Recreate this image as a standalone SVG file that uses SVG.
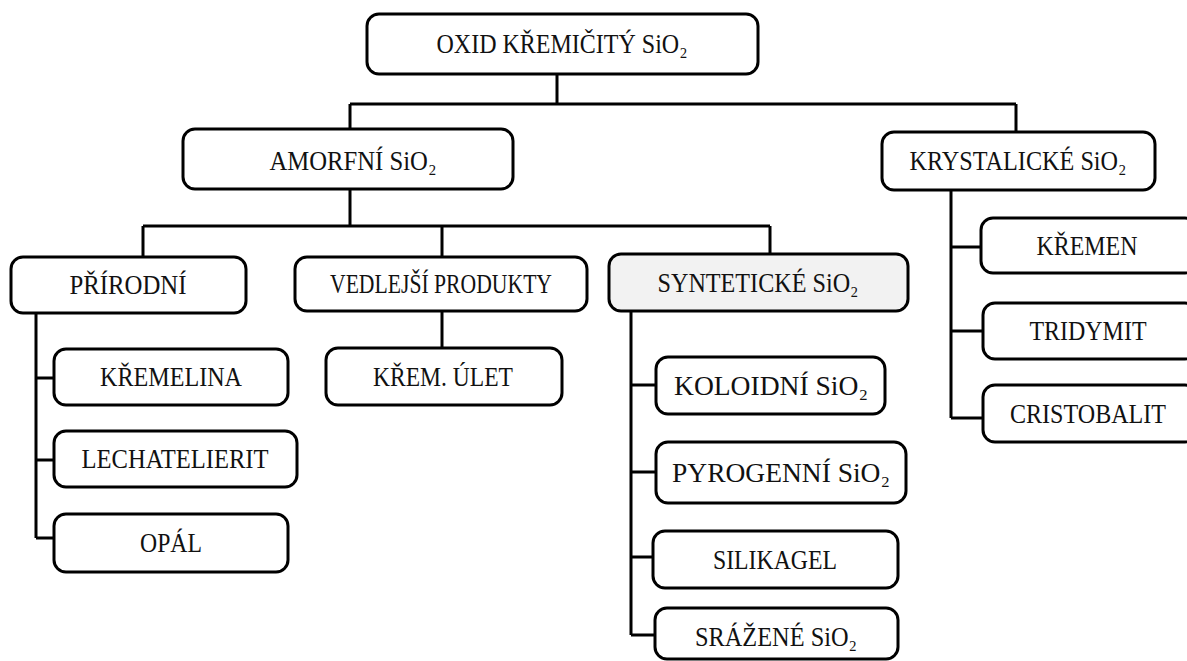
<svg xmlns="http://www.w3.org/2000/svg" width="1187" height="661" viewBox="0 0 1187 661">
<style>
.box{fill:#fff;stroke:#000;stroke-width:3}
.hl{fill:#f2f2f2}
.lbl{font-family:"Liberation Serif","DejaVu Serif",serif;font-size:27px;fill:#111;text-anchor:middle}
.con{fill:none;stroke:#000;stroke-width:3}
</style>
<rect width="1187" height="661" fill="#fff"/>
<g id="connectors" class="con">
<path d="M557 74V104M350 104H1016M350 104V129M1016 104V132"/>
<path d="M350 189V226M143 226H770M143 226V257M442 226V257M770 226V254"/>
<path d="M442 311V348"/>
<path d="M36 313V538M36 378H54M36 460H54M36 538H54"/>
<path d="M631 311V635M631 385H656M631 472H656M631 557H653M631 635H655"/>
<path d="M951 190V418M951 247H981M951 331H983M951 418H983"/>
</g>
<g id="n-root"><rect class="box" x="367" y="14" width="391" height="60" rx="12"/><text class="lbl" x="562" y="53" textLength="251" lengthAdjust="spacingAndGlyphs">OXID KŘEMIČITÝ SiO₂</text></g>
<g id="n-amorf"><rect class="box" x="183" y="129" width="330" height="60" rx="12"/><text class="lbl" x="353" y="170" textLength="167" lengthAdjust="spacingAndGlyphs">AMORFNÍ SiO₂</text></g>
<g id="n-kryst"><rect class="box" x="882" y="132" width="273" height="58" rx="12"/><text class="lbl" x="1018" y="170" textLength="217" lengthAdjust="spacingAndGlyphs">KRYSTALICKÉ SiO₂</text></g>
<g id="n-prir"><rect class="box" x="11" y="257" width="235" height="56" rx="12"/><text class="lbl" x="128" y="294" textLength="117" lengthAdjust="spacingAndGlyphs">PŘÍRODNÍ</text></g>
<g id="n-vedl"><rect class="box" x="295" y="257" width="292" height="54" rx="12"/><text class="lbl" x="441" y="293" textLength="222" lengthAdjust="spacingAndGlyphs">VEDLEJŠÍ PRODUKTY</text></g>
<g id="n-synt"><rect class="box hl" x="609" y="254" width="299" height="57" rx="12"/><text class="lbl" x="758" y="292" textLength="201" lengthAdjust="spacingAndGlyphs">SYNTETICKÉ SiO₂</text></g>
<g id="n-kremelina"><rect class="box" x="54" y="349" width="234" height="56" rx="12"/><text class="lbl" x="171" y="386" textLength="142" lengthAdjust="spacingAndGlyphs">KŘEMELINA</text></g>
<g id="n-lech"><rect class="box" x="54" y="431" width="243" height="56" rx="12"/><text class="lbl" x="175" y="468" textLength="187" lengthAdjust="spacingAndGlyphs">LECHATELIERIT</text></g>
<g id="n-opal"><rect class="box" x="54" y="514" width="234" height="58" rx="12"/><text class="lbl" x="171" y="552" textLength="62" lengthAdjust="spacingAndGlyphs">OPÁL</text></g>
<g id="n-ulet"><rect class="box" x="326" y="348" width="236" height="57" rx="12"/><text class="lbl" x="443" y="386" textLength="140" lengthAdjust="spacingAndGlyphs">KŘEM. ÚLET</text></g>
<g id="n-koloid"><rect class="box" x="656" y="357" width="229" height="57" rx="12"/><text class="lbl" x="771" y="395" textLength="194" lengthAdjust="spacingAndGlyphs">KOLOIDNÍ SiO₂</text></g>
<g id="n-pyro"><rect class="box" x="656" y="442" width="250" height="61" rx="12"/><text class="lbl" x="781" y="482" textLength="218" lengthAdjust="spacingAndGlyphs">PYROGENNÍ SiO₂</text></g>
<g id="n-silik"><rect class="box" x="653" y="531" width="245" height="57" rx="12"/><text class="lbl" x="775" y="569" textLength="124" lengthAdjust="spacingAndGlyphs">SILIKAGEL</text></g>
<g id="n-sraz"><rect class="box" x="655" y="608" width="243" height="51" rx="12"/><text class="lbl" x="776" y="646" textLength="162" lengthAdjust="spacingAndGlyphs">SRÁŽENÉ SiO₂</text></g>
<g id="n-kremen"><rect class="box" x="981" y="218" width="216" height="55" rx="12"/><text class="lbl" x="1087" y="255" textLength="101" lengthAdjust="spacingAndGlyphs">KŘEMEN</text></g>
<g id="n-trid"><rect class="box" x="983" y="303" width="214" height="56" rx="12"/><text class="lbl" x="1088" y="340" textLength="117" lengthAdjust="spacingAndGlyphs">TRIDYMIT</text></g>
<g id="n-crist"><rect class="box" x="983" y="385" width="214" height="57" rx="12"/><text class="lbl" x="1088" y="423" textLength="156" lengthAdjust="spacingAndGlyphs">CRISTOBALIT</text></g>
</svg>
